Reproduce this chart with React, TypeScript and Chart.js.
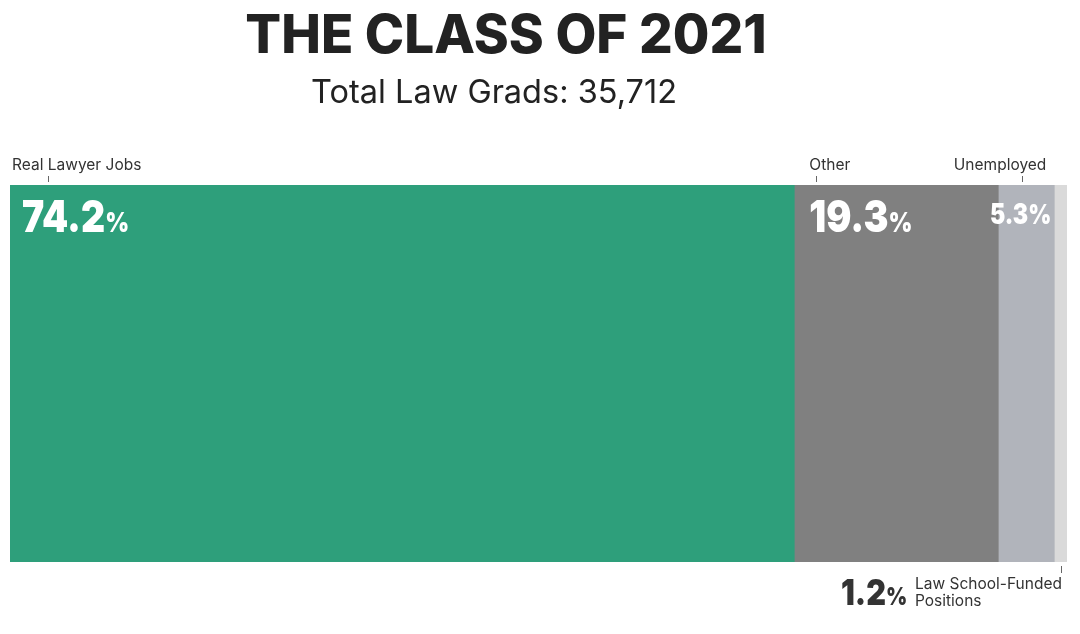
import React, { useEffect, useRef } from "react";
import { Chart, registerables } from "chart.js";

Chart.register(...registerables);

const categories = ["Class of 2021"];
const segmentLabels = ["Real Lawyer Jobs", "Other", "Unemployed", "Law School-Funded Positions"];
const segmentValues = [74.2, 19.3, 5.3, 1.2];
const segmentColors = ["#2e9f7b", "#808080", "#b1b4bb", "#dadada"];
const titleText = "THE CLASS OF 2021";
const subtitleText = "Total Law Grads: 35,712";

const FONT = "Inter, 'Noto Sans', sans-serif";

function drawPct(
  ctx: CanvasRenderingContext2D,
  value: number,
  x: number,
  baseline: number,
  big: number,
  color: string,
  align: "left" | "right",
  pctRatio: number,
  sx: number
) {
  const num = value.toFixed(1);
  const small = Math.round(big * pctRatio);
  ctx.save();
  ctx.fillStyle = color;
  ctx.textBaseline = "alphabetic";
  ctx.textAlign = "left";
  ctx.font = `900 ${big}px ${FONT}`;
  const w1 = ctx.measureText(num).width;
  ctx.font = `900 ${small}px ${FONT}`;
  const w2 = ctx.measureText("%").width;
  const total = (w1 + w2) * sx;
  const start = align === "left" ? x : x - total;
  ctx.translate(start, baseline);
  ctx.scale(sx, 1);
  ctx.font = `900 ${big}px ${FONT}`;
  ctx.fillText(num, 0, 0);
  ctx.font = `900 ${small}px ${FONT}`;
  ctx.fillText("%", w1, 0);
  ctx.restore();
}

const labelPlugin = {
  id: "labelPlugin",
  afterDraw(chart: any) {
    const ctx: CanvasRenderingContext2D = chart.ctx;
    const xs = chart.scales.x;
    const area = chart.chartArea;
    const cum: number[] = [];
    let acc = 0;
    segmentValues.forEach((v) => {
      cum.push(acc);
      acc += v;
    });
    const px = (v: number) => xs.getPixelForValue(v);
    ctx.save();
    // Title
    ctx.fillStyle = "#222";
    ctx.textAlign = "center";
    ctx.textBaseline = "alphabetic";
    ctx.font = `800 53px ${FONT}`;
    ctx.fillText(titleText, 506, 53);
    ctx.font = `400 32.5px ${FONT}`;
    ctx.fillText(subtitleText, 494, 103);

    // top labels
    ctx.font = `400 15.5px ${FONT}`;
    ctx.fillStyle = "#333";
    ctx.strokeStyle = "#666";
    ctx.lineWidth = 1;
    const tick = (x: number, y1: number, y2: number) => {
      ctx.beginPath();
      ctx.moveTo(Math.round(x) + 0.5, y1);
      ctx.lineTo(Math.round(x) + 0.5, y2);
      ctx.stroke();
    };
    ctx.textAlign = "left";
    ctx.fillText(segmentLabels[0], 12, 170);
    tick(48, 176, 182);
    ctx.fillText(segmentLabels[1], px(cum[1]) + 15, 170);
    tick(px(cum[1]) + 22, 176, 182);
    ctx.textAlign = "right";
    ctx.fillText(segmentLabels[2], px(cum[2] + segmentValues[2]) - 8, 170);
    tick(px(cum[2]) + 24, 176, 182);

    // inside values
    const base = area.top + 47;
    drawPct(ctx, segmentValues[0], px(cum[0]) + 12, base, 44, "#fff", "left", 0.62, 0.85);
    drawPct(ctx, segmentValues[1], px(cum[1]) + 15, base, 44, "#fff", "left", 0.62, 0.85);
    drawPct(ctx, segmentValues[2], px(cum[2] + segmentValues[2]) - 3, base - 8, 28, "#fff", "right", 0.95, 0.82);

    // bottom label
    const midLast = px(cum[3] + segmentValues[3] / 2);
    tick(midLast, area.bottom + 4, area.bottom + 11);
    drawPct(ctx, segmentValues[3], 841, 605, 36, "#333", "left", 0.68, 0.85);
    ctx.fillStyle = "#333";
    ctx.textAlign = "left";
    ctx.font = `400 15.5px ${FONT}`;
    const parts = segmentLabels[3].split(" ");
    ctx.fillText(parts.slice(0, 2).join(" "), 915, 589);
    ctx.fillText(parts.slice(2).join(" "), 915, 606);
    ctx.restore();
  },
};

export default function App() {
  const ref = useRef<HTMLCanvasElement | null>(null);
  useEffect(() => {
    if (!ref.current) return;
    const chart = new Chart(ref.current, {
      type: "bar",
      data: {
        labels: categories,
        datasets: segmentLabels.map((l, i) => ({
          label: l,
          data: [segmentValues[i]],
          backgroundColor: segmentColors[i],
          borderWidth: 0,
          barPercentage: 1,
          categoryPercentage: 1,
        })),
      },
      options: {
        indexAxis: "y",
        animation: false,
        responsive: false,
        maintainAspectRatio: false,
        layout: { padding: { left: 10, right: 13, top: 185, bottom: 72 } },
        scales: {
          x: { stacked: true, display: false, min: 0, max: 100 },
          y: { stacked: true, display: false },
        },
        plugins: { legend: { display: false }, tooltip: { enabled: false }, title: { display: false } },
      },
      plugins: [labelPlugin],
    } as any);
    return () => chart.destroy();
  }, []);
  return (
    <div style={{ position: "fixed", left: 0, top: 0, width: 1080, height: 634, background: "#fff" }}>
      <canvas ref={ref} width={1080} height={634} style={{ width: 1080, height: 634, display: "block" }} />
    </div>
  );
}
